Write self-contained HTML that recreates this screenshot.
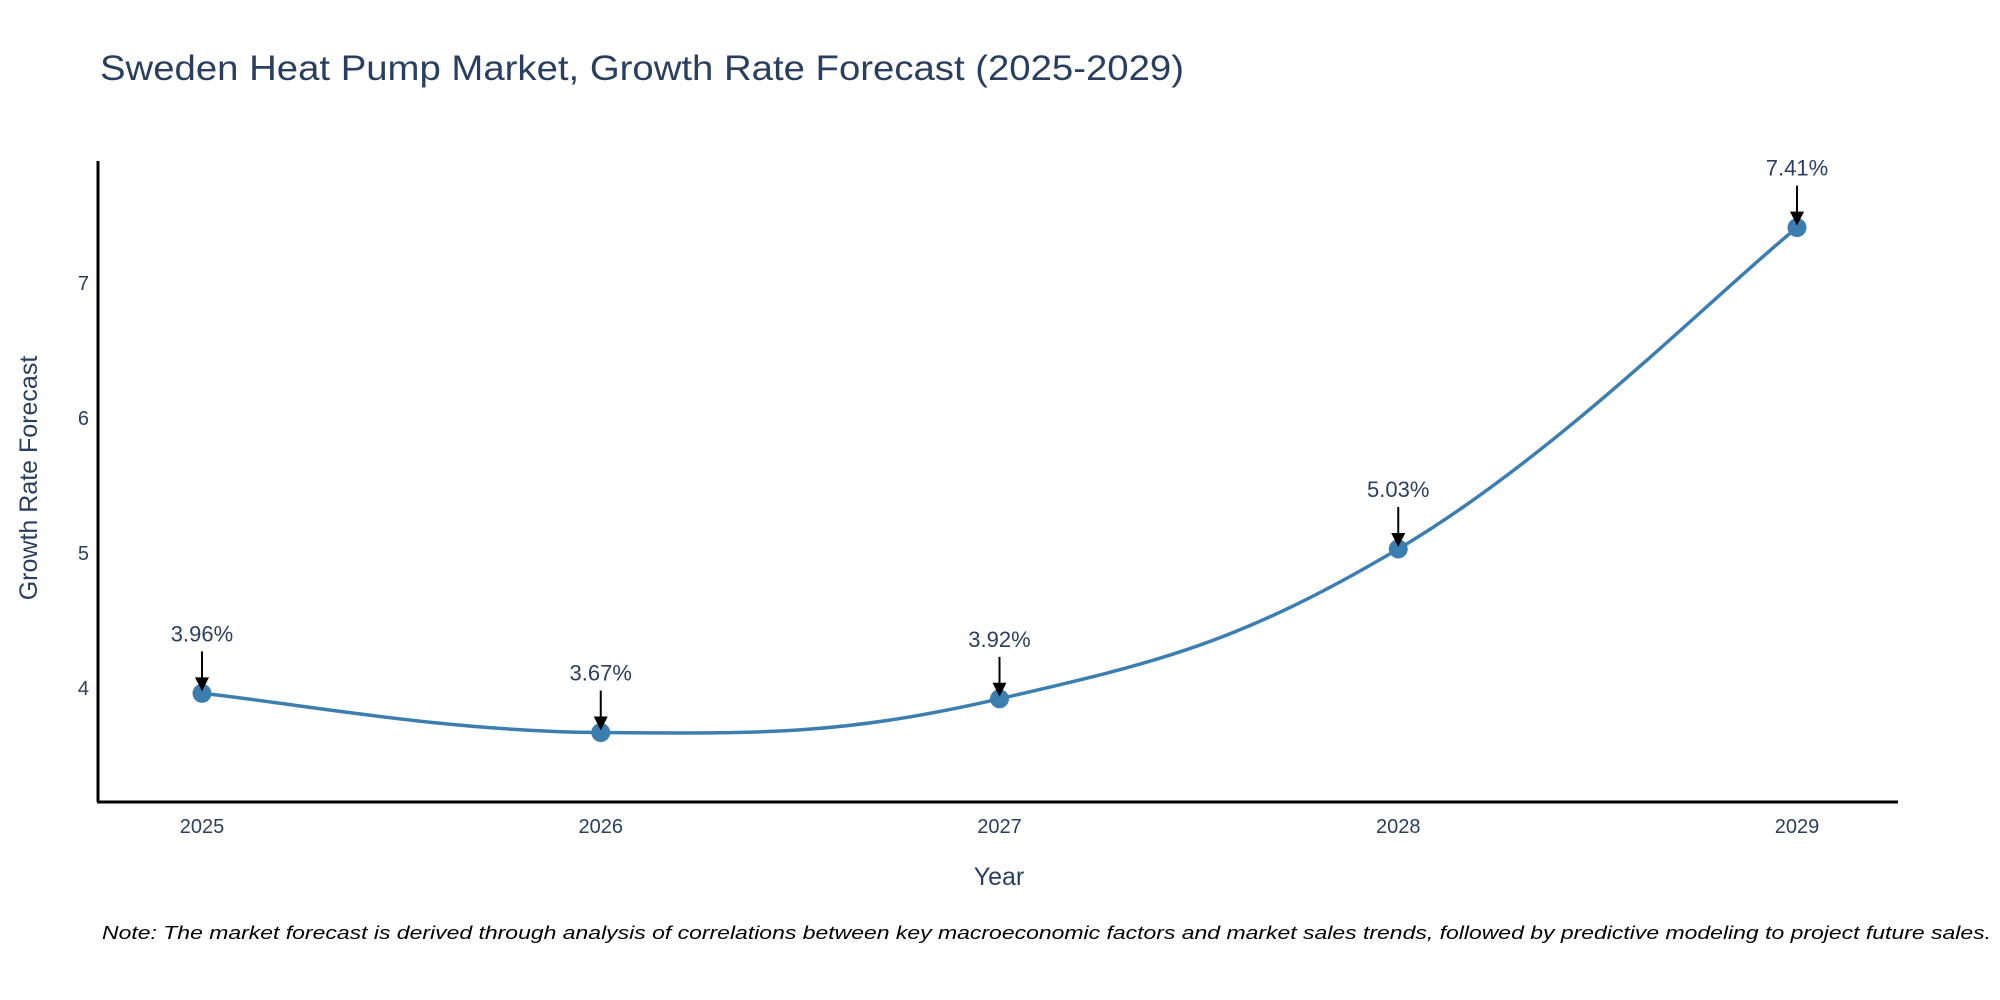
<!DOCTYPE html>
<html><head><meta charset="utf-8"><style>
html,body{margin:0;padding:0;background:#fff;}
svg{display:block;font-family:"Liberation Sans","DejaVu Sans",sans-serif;}
</style></head><body>
<svg id="chart" width="2000" height="1000" viewBox="0 0 2000 1000">
<defs><marker id="ah" markerWidth="8" markerHeight="8" refX="4" refY="7" orient="auto-start-reverse" markerUnits="userSpaceOnUse"></marker></defs>
<text x="100" y="80" font-size="35" fill="#2a3f5f" textLength="1084" lengthAdjust="spacingAndGlyphs">Sweden Heat Pump Market, Growth Rate Forecast (2025-2029)</text>
<g id="plot"></g>
<line x1="98" y1="161" x2="98" y2="802" stroke="#000" stroke-width="3"/>
<line x1="97" y1="802" x2="1898" y2="802" stroke="#000" stroke-width="3"/>
<text x="999" y="885" font-size="25" fill="#2a3f5f" text-anchor="middle">Year</text>
<text transform="translate(37,478) rotate(-90)" font-size="25" fill="#2a3f5f" text-anchor="middle">Growth Rate Forecast</text>
<text x="102" y="939" font-size="18.5" font-style="italic" fill="#000" textLength="1889" lengthAdjust="spacingAndGlyphs">Note: The market forecast is derived through analysis of correlations between key macroeconomic factors and market sales trends, followed by predictive modeling to project future sales.</text>
</svg>
<script>
const years = ["2025","2026","2027","2028","2029"];
const growth = [3.96, 3.67, 3.92, 5.03, 7.41];
const labels = ["3.96%","3.67%","3.92%","5.03%","7.41%"];
const yTicks = [4,5,6,7];

const NS="http://www.w3.org/2000/svg";
const g=document.getElementById('plot');
function xs(i){return 202 + i*398.75;}
function ys(v){return 688 - (v-4)*135;}
function mk(t,a){const e=document.createElementNS(NS,t);for(const k in a)e.setAttribute(k,a[k]);return e;}

yTicks.forEach(v=>{
  const t=mk('text',{x:89,y:ys(v)+7,'font-size':20,fill:'#2a3f5f','text-anchor':'end'});
  
  
  t.textContent=v;g.appendChild(t);
});
years.forEach((y,i)=>{
  const t=mk('text',{x:xs(i),y:833,'font-size':20,fill:'#2a3f5f','text-anchor':'middle'});
  
  
  t.textContent=y;g.appendChild(t);
});
// spline path (catmull-rom)
const P=growth.map((v,i)=>[xs(i),ys(v)]);
let d='M'+P[0][0]+','+P[0][1];
const s=0.2;
for(let i=0;i<P.length-1;i++){
  const p0=P[Math.max(0,i-1)],p1=P[i],p2=P[i+1],p3=P[Math.min(P.length-1,i+2)];
  const c1=[p1[0]+(p2[0]-p0[0])*s,p1[1]+(p2[1]-p0[1])*s];
  const c2=[p2[0]-(p3[0]-p1[0])*s,p2[1]-(p3[1]-p1[1])*s];
  d+=' C'+c1+' '+c2+' '+p2;
}
const line=mk('path',{d:d,fill:'none',stroke:'#3d7eb0','stroke-width':3.5});


g.appendChild(line);
P.forEach((p,i)=>{
  const c=mk('circle',{cx:p[0],cy:p[1],r:9.5,fill:'#3d7eb0'});
  
  
  g.appendChild(c);
  const a=mk('line',{x1:p[0],y1:p[1]-42,x2:p[0],y2:p[1]-12,stroke:'#000','stroke-width':2});
  
  
  g.appendChild(a);
  const h=mk('polygon',{points:(p[0]-7)+','+(p[1]-16)+' '+(p[0]+7)+','+(p[1]-16)+' '+p[0]+','+(p[1]-2),fill:'#000'});
  
  
  g.appendChild(h);
  const t=mk('text',{x:p[0],y:p[1]-52,'font-size':22,fill:'#2a3f5f','text-anchor':'middle'});
  
  
  t.textContent=labels[i];g.appendChild(t);
});
</script>
</body></html>
